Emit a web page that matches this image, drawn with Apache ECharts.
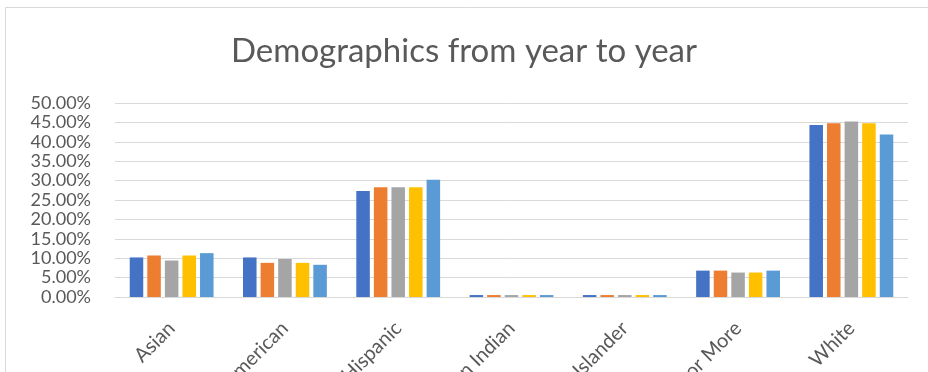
<!DOCTYPE html>
<html>
<head>
<meta charset="utf-8">
<script src="https://cdn.jsdelivr.net/npm/echarts@6/dist/echarts.min.js"></script>
<style>
html,body{margin:0;padding:0;background:#fff;}
#chart{width:928px;height:372px;}
</style>
</head>
<body>
<div id="chart"></div>
<script>
const categories = ["Asian", "African American", "Hispanic", "American Indian", "Pacific Islander", "Two or More", "White"];
const seriesNames = ["Year 1", "Year 2", "Year 3", "Year 4", "Year 5"];
const year1 = [10.2, 10.2, 27.3, 0.5, 0.5, 6.8, 44.3];
const year2 = [10.7, 8.8, 28.3, 0.5, 0.5, 6.8, 44.8];
const year3 = [9.4, 9.8, 28.3, 0.5, 0.5, 6.3, 45.2];
const year4 = [10.7, 8.8, 28.3, 0.5, 0.5, 6.3, 44.8];
const year5 = [11.3, 8.3, 30.2, 0.5, 0.5, 6.8, 41.9];
const seriesData = [year1, year2, year3, year4, year5];
const colors = ["#4472C4", "#ED7D31", "#A5A5A5", "#FFC000", "#5B9BD5"];

const chart = echarts.init(document.getElementById('chart'), null, {renderer: 'canvas'});
chart.setOption({
  animation: false,
  color: colors,
  title: {
    text: "Demographics from year to year",
    left: 'center',
    top: 30,
    textStyle: {fontFamily: 'Lato', fontSize: 33, fontWeight: 'normal', color: '#595959'}
  },
  graphic: [{
    type: 'rect',
    shape: {x: 5.5, y: 7.5, width: 1000, height: 1000},
    style: {fill: 'none', stroke: '#d9d9d9', lineWidth: 1},
    silent: true
  }],
  grid: {left: 115, right: 20, top: 103, bottom: 75, containLabel: false, outerBoundsMode: 'none'},
  xAxis: {
    type: 'category',
    data: categories,
    axisLine: {lineStyle: {color: '#d9d9d9'}},
    axisTick: {show: false},
    axisLabel: {rotate: 45, margin: 28, color: '#595959', fontFamily: 'Lato', fontSize: 20, interval: 0, hideOverlap: false}
  },
  yAxis: {
    type: 'value',
    min: 0, max: 50, interval: 5,
    axisLine: {show: false},
    axisTick: {show: false},
    splitLine: {lineStyle: {color: '#d9d9d9', width: 1}},
    axisLabel: {margin: 24, color: '#595959', fontFamily: 'Lato', fontSize: 18,
      showMinLabel: true, showMaxLabel: true, hideOverlap: false,
      formatter: v => v.toFixed(2) + '%'}
  },
  series: seriesNames.map((n, i) => ({
    name: n,
    type: 'bar',
    data: seriesData[i],
    barGap: '30%',
    barCategoryGap: '26%'
  }))
});
</script>
</body>
</html>
